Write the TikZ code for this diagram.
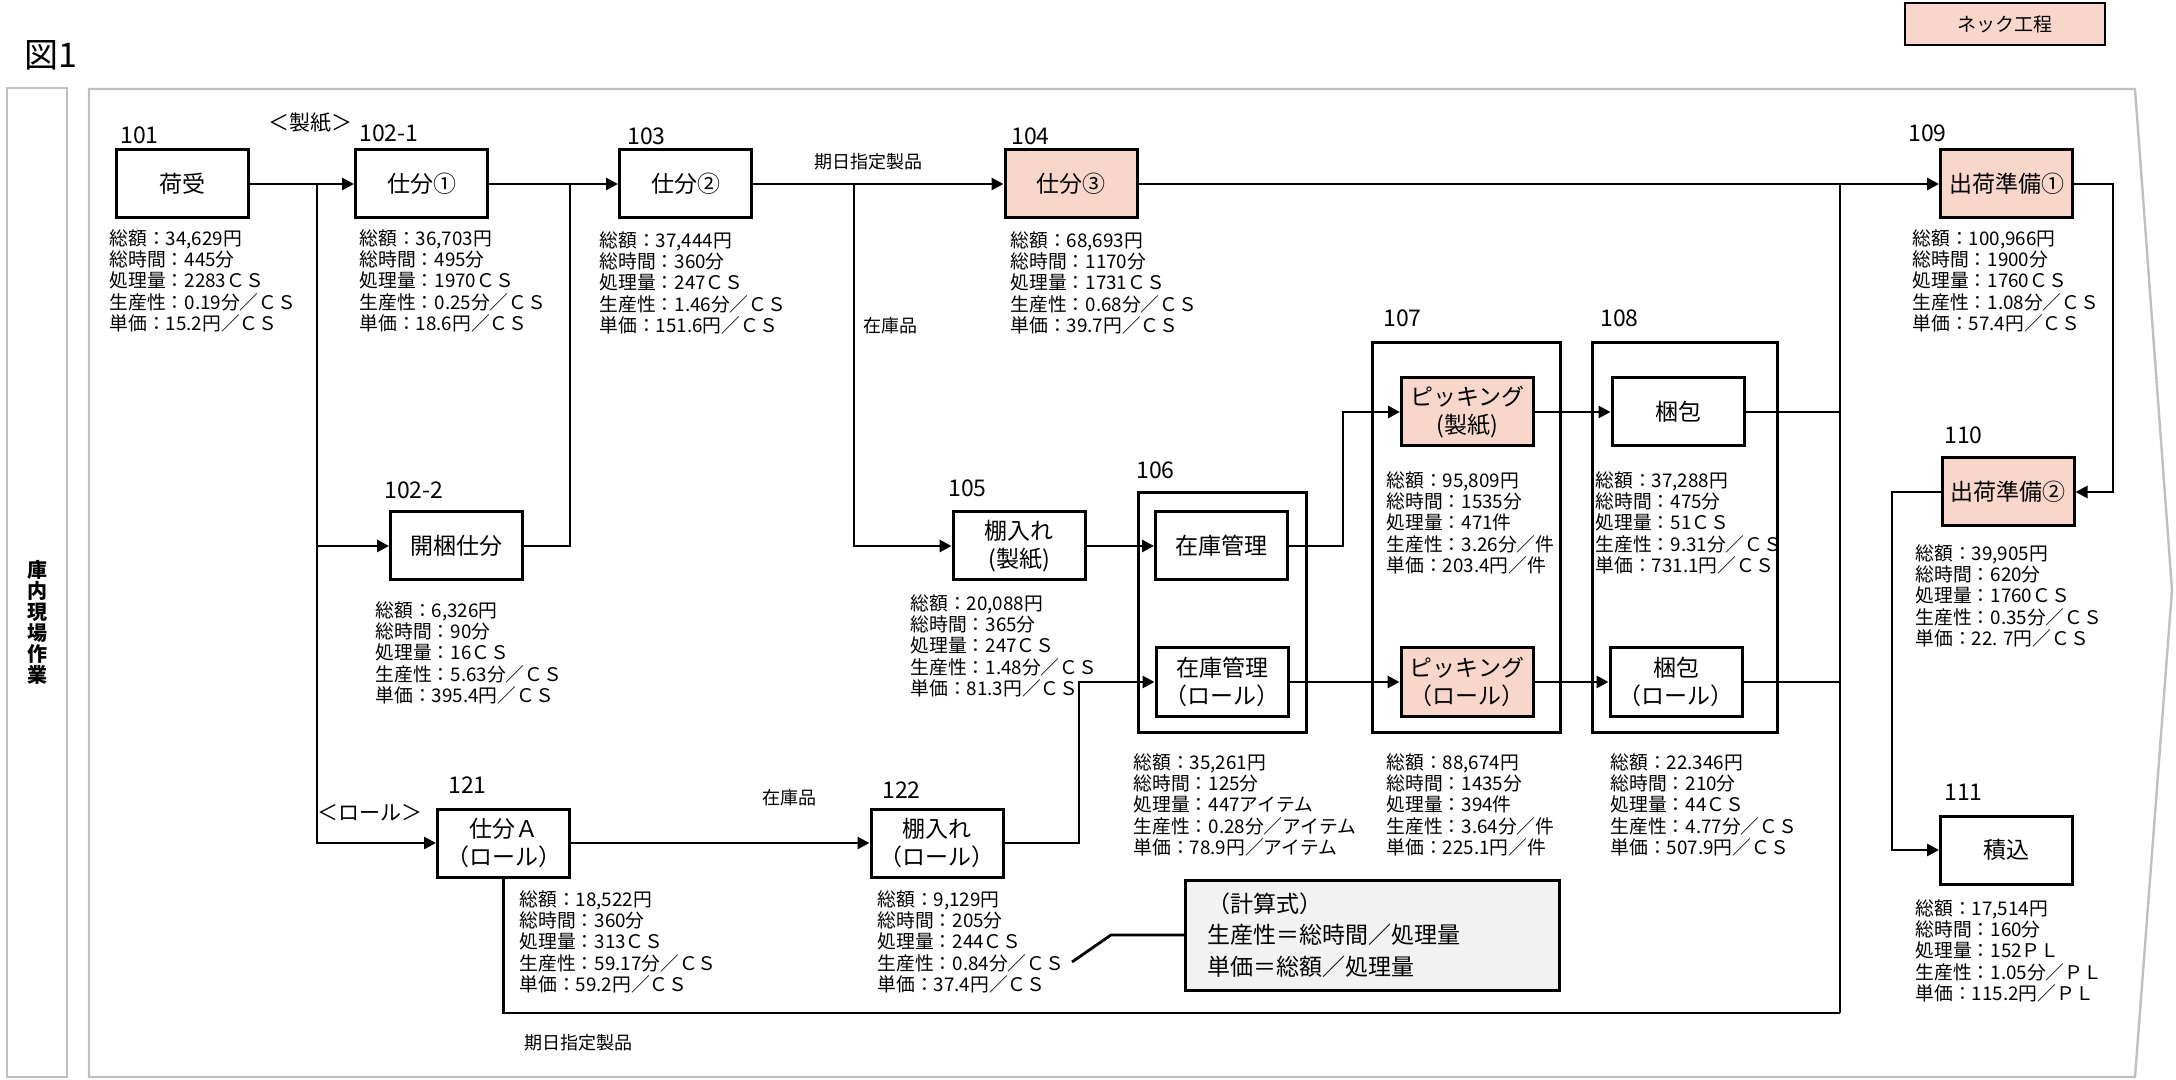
\documentclass[tikz,border=0pt]{standalone}
\usepackage{fontspec}
\setmainfont{Noto Sans CJK JP}
\usetikzlibrary{arrows.meta}
\definecolor{neck}{RGB}{248,215,202}
\definecolor{framegray}{RGB}{192,192,192}
\definecolor{formbg}{RGB}{242,242,242}
\begin{document}
\begin{tikzpicture}[x=0.5pt,y=-0.5pt,
  proc/.style={draw, line width=1.5pt, fill=white, align=center, inner sep=0pt, minimum width=66pt, minimum height=34pt, font=\fontsize{11.5}{14}\selectfont},
  neckbox/.style={proc, fill=neck},
  grp/.style={draw, line width=1.5pt, inner sep=0pt},
  num/.style={anchor=west, inner sep=0pt, font=\fontsize{11.5}{13}\selectfont},
  stat/.style={anchor=north west, align=left, inner sep=0pt, font=\fontsize{9.4}{10.65}\selectfont},
  lbl/.style={inner sep=0pt, font=\fontsize{9}{10}\selectfont},
  conn/.style={line width=1.4pt},
  arr/.style={conn, -{Triangle[length=6pt,width=6pt]}},
  gline/.style={draw=framegray, line width=1.2pt}
]
\useasboundingbox (0,0) rectangle (2176,1080);

% title and legend
\node[inner sep=0pt, font=\fontsize{17}{20}\selectfont] (title) at (51,55) {図1};
\node[draw, line width=1.2pt, fill=neck, minimum width=100pt, minimum height=21pt, inner sep=0pt, font=\fontsize{9.5}{11}\selectfont] (legend) at (2005,24) {ネック工程};

% sidebar and frame
\node[gline, minimum width=30pt, minimum height=494.5pt, inner sep=0pt] (side) at (37,582.5) {};
\node[inner sep=0pt, align=center, font=\bfseries\fontsize{10}{10.5}\selectfont] (sidetext) at (37,622) {庫\\内\\現\\場\\作\\業};
\draw[gline] (89,89) -- (2135,89) -- (2172,590) -- (2135,1077) -- (89,1077) -- cycle;

% group boxes
\node[grp, minimum width=84pt, minimum height=119.5pt] (g106) at (1222,612.5) {};
\node[grp, minimum width=94pt, minimum height=194.5pt] (g107) at (1466,537.5) {};
\node[grp, minimum width=92.5pt, minimum height=194.5pt] (g108) at (1684.5,537.5) {};

% process boxes
\node[proc] (nika) at (182,184) {荷受};
\node[proc] (sw1) at (421.5,184) {仕分①};
\node[proc] (sw2) at (685.5,184) {仕分②};
\node[neckbox] (sw3) at (1071,184) {仕分③};
\node[neckbox] (ship1) at (2006.5,184) {出荷準備①};
\node[proc] (kaikon) at (456.5,546) {開梱仕分};
\node[proc] (tanaS) at (1019,546) {棚入れ\\(製紙)};
\node[proc] (zaiko) at (1221.5,546) {在庫管理};
\node[proc] (zaikoR) at (1222,682) {在庫管理\\（ロール）};
\node[neckbox] (pickS) at (1467.5,412) {ピッキング\\(製紙)};
\node[neckbox] (pickR) at (1467,682) {ピッキング\\（ロール）};
\node[proc] (konpo) at (1678,412) {梱包};
\node[proc] (konpoR) at (1676,682) {梱包\\（ロール）};
\node[neckbox] (ship2) at (2008,492) {出荷準備②};
\node[proc] (tsumi) at (2006.5,850) {積込};
\node[proc] (swA) at (503.5,843) {仕分Ａ\\（ロール）};
\node[proc] (tanaR) at (937,843) {棚入れ\\（ロール）};

% number labels
\node[num] (n101) at (120,135) {101};
\node[num] (n1021) at (359,133) {102-1};
\node[num] (n103) at (627,136) {103};
\node[num] (n104) at (1011,136) {104};
\node[num] (n109) at (1908,133) {109};
\node[num] (n1022) at (384,490) {102-2};
\node[num] (n105) at (948,488) {105};
\node[num] (n106) at (1136,470) {106};
\node[num] (n107) at (1383,318) {107};
\node[num] (n108) at (1600,318) {108};
\node[num] (n110) at (1944,435) {110};
\node[num] (n121) at (448,785) {121};
\node[num] (n122) at (882,790) {122};
\node[num] (n111) at (1944,792) {111};

% stats
\node[stat] (s101) at (109,229) {総額：34,629円\\総時間：445分\\処理量：2283ＣＳ\\生産性：0.19分／ＣＳ\\単価：15.2円／ＣＳ};
\node[stat] (s1021) at (359,229) {総額：36,703円\\総時間：495分\\処理量：1970ＣＳ\\生産性：0.25分／ＣＳ\\単価：18.6円／ＣＳ};
\node[stat] (s103) at (599,231) {総額：37,444円\\総時間：360分\\処理量：247ＣＳ\\生産性：1.46分／ＣＳ\\単価：151.6円／ＣＳ};
\node[stat] (s104) at (1010,231) {総額：68,693円\\総時間：1170分\\処理量：1731ＣＳ\\生産性：0.68分／ＣＳ\\単価：39.7円／ＣＳ};
\node[stat] (s109) at (1912,229) {総額：100,966円\\総時間：1900分\\処理量：1760ＣＳ\\生産性：1.08分／ＣＳ\\単価：57.4円／ＣＳ};
\node[stat] (s1022) at (375,601) {総額：6,326円\\総時間：90分\\処理量：16ＣＳ\\生産性：5.63分／ＣＳ\\単価：395.4円／ＣＳ};
\node[stat] (s105) at (910,594) {総額：20,088円\\総時間：365分\\処理量：247ＣＳ\\生産性：1.48分／ＣＳ\\単価：81.3円／ＣＳ};
\node[stat] (s107a) at (1386,471) {総額：95,809円\\総時間：1535分\\処理量：471件\\生産性：3.26分／件\\単価：203.4円／件};
\node[stat] (s108a) at (1595,471) {総額：37,288円\\総時間：475分\\処理量：51ＣＳ\\生産性：9.31分／ＣＳ\\単価：731.1円／ＣＳ};
\node[stat] (s110) at (1915,544) {総額：39,905円\\総時間：620分\\処理量：1760ＣＳ\\生産性：0.35分／ＣＳ\\単価：22. 7円／ＣＳ};
\node[stat] (s106) at (1133,753) {総額：35,261円\\総時間：125分\\処理量：447アイテム\\生産性：0.28分／アイテム\\単価：78.9円／アイテム};
\node[stat] (s107b) at (1386,753) {総額：88,674円\\総時間：1435分\\処理量：394件\\生産性：3.64分／件\\単価：225.1円／件};
\node[stat] (s108b) at (1610,753) {総額：22.346円\\総時間：210分\\処理量：44ＣＳ\\生産性：4.77分／ＣＳ\\単価：507.9円／ＣＳ};
\node[stat] (s121) at (519,890) {総額：18,522円\\総時間：360分\\処理量：313ＣＳ\\生産性：59.17分／ＣＳ\\単価：59.2円／ＣＳ};
\node[stat] (s122) at (877,890) {総額：9,129円\\総時間：205分\\処理量：244ＣＳ\\生産性：0.84分／ＣＳ\\単価：37.4円／ＣＳ};
\node[stat] (s111) at (1915,899) {総額：17,514円\\総時間：160分\\処理量：152ＰＬ\\生産性：1.05分／ＰＬ\\単価：115.2円／ＰＬ};

% route labels
\node[inner sep=0pt, font=\fontsize{10.5}{12}\selectfont] (lseishi) at (310,123) {＜製紙＞};
\node[inner sep=0pt, font=\fontsize{10.5}{12}\selectfont] (lroll) at (370,813) {＜ロール＞};
\node[lbl] (lkijitsu1) at (868,162) {期日指定製品};
\node[lbl] (lzaiko1) at (890,326) {在庫品};
\node[lbl] (lzaiko2) at (789,798) {在庫品};
\node[lbl] (lkijitsu2) at (578,1043) {期日指定製品};

% formula box
\node[draw, line width=1.5pt, fill=formbg, text width=165pt, align=left, inner xsep=11pt, inner ysep=0pt, minimum height=55pt, font=\fontsize{11.5}{15.75}\selectfont] (formula) at (1372.5,935) {（計算式）\\生産性＝総時間／処理量\\単価＝総額／処理量};

% junction coordinates
\coordinate (J1) at (317,184);
\coordinate (J2) at (854,184);
\coordinate (J3) at (570,184);
\coordinate (M1) at (1840,184);
\coordinate (M2) at (1840,1013);
\coordinate (K) at (1343,0);
\coordinate (T) at (1079,0);
\coordinate (R) at (2113,0);
\coordinate (L) at (1892,0);
\coordinate (C1) at (1072,962);
\coordinate (C2) at (1111,935);

% connectors
\draw[arr] (nika.east) -- (sw1.west);
\draw[arr] (J1) |- (kaikon.west);
\draw[arr] (J1) |- (swA.west);
\draw[arr] (sw1.east) -- (sw2.west);
\draw[conn] (kaikon.east) -| (J3);
\draw[arr] (sw2.east) -- (sw3.west);
\draw[arr] (J2) |- (tanaS.west);
\draw[arr] (sw3.east) -- (ship1.west);
\draw[conn] (M1) -- (M2);
\draw[arr] (tanaS.east) -- (zaiko.west);
\draw[arr] (zaiko.east) -- (zaiko.east -| K) |- (pickS.west);
\draw[arr] (pickS.east) -- (konpo.west);
\draw[conn] (konpo.east) -- (konpo.east -| M1);
\draw[arr] (zaikoR.east) -- (pickR.west);
\draw[arr] (pickR.east) -- (konpoR.west);
\draw[conn] (konpoR.east) -- (konpoR.east -| M1);
\draw[arr] (swA.east) -- (tanaR.west);
\draw[arr] (tanaR.east) -- (tanaR.east -| T) |- (zaikoR.west);
\draw[conn] (swA.south) |- (M2);
\draw[arr] (ship1.east) -- (ship1.east -| R) |- (ship2.east);
\draw[arr] (ship2.west) -- (ship2.west -| L) |- (tsumi.west);
\draw[conn] (C1) -- (C2) -- (formula.west);
\end{tikzpicture}
\end{document}
